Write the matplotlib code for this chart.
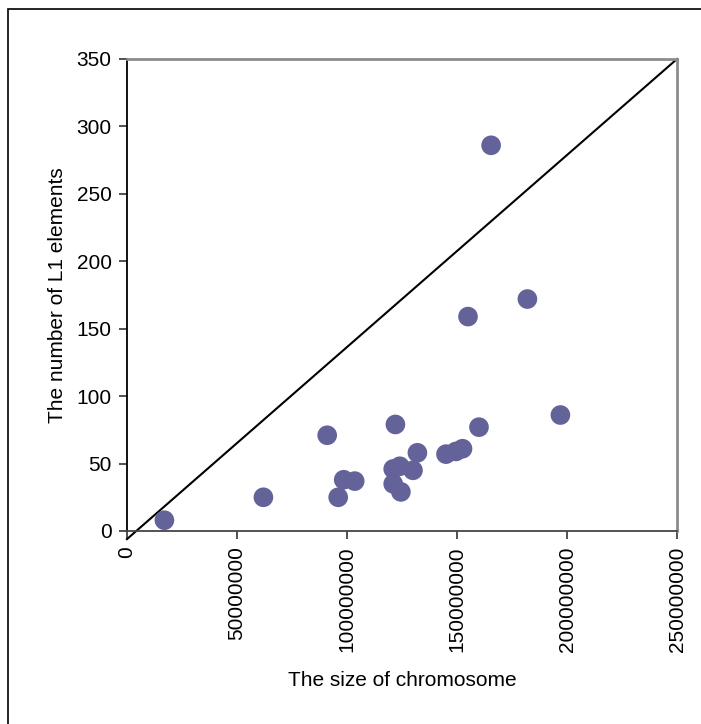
import matplotlib
matplotlib.use("Agg")
import matplotlib.pyplot as plt
from matplotlib.patches import Rectangle

plt.rcParams['font.family'] = ['Liberation Sans', 'DejaVu Sans']

chrom_size = [17e6, 62e6, 91e6, 96e6, 98.5e6, 103.5e6, 122e6, 121e6, 121e6, 124e6,
              124.5e6, 130e6, 132e6, 145e6, 149.5e6, 152.5e6, 160e6, 155e6, 165.5e6,
              182e6, 197e6]
l1_count = [8, 25, 71, 25, 38, 37, 79, 46, 35, 48, 29, 45, 58, 57, 59, 61, 77, 159, 286, 172, 86]

line_x = [0, 250e6]
line_y = [-6, 350]

x_ticks = [0, 50000000, 100000000, 150000000, 200000000, 250000000]
y_ticks = [0, 50, 100, 150, 200, 250, 300, 350]

W, H = 701, 724
fig = plt.figure(figsize=(W / 100, H / 100), dpi=100)
fig.patch.set_facecolor('white')

# outer chart-area border (left and top visible)
fig.add_artist(Rectangle((7.5 / W, -0.1), 1.2, 1 - 9 / H + 0.1, transform=fig.transFigure,
                         fill=False, edgecolor='black', linewidth=1.2))

ax = fig.add_axes([127 / W, 1 - 531 / H, 550 / W, 472 / H])
ax.set_xlim(0, 250e6)
ax.set_ylim(0, 350)

ax.plot(line_x, line_y, color='black', linewidth=1.5, clip_on=False, zorder=2)
ax.scatter(chrom_size, l1_count, s=200, color='#636399', edgecolors='none', zorder=3)

ax.set_xticks(x_ticks)
ax.set_xticklabels([str(v) for v in x_ticks], rotation=90, fontsize=15)
ax.set_yticks(y_ticks)
ax.set_yticklabels([str(v) for v in y_ticks], fontsize=15)
ax.tick_params(axis='both', direction='out', length=6, width=1.2, color='#333333', pad=5)

for side in ['top', 'right']:
    ax.spines[side].set_color('#8c8c8c')
    ax.spines[side].set_linewidth(2)
ax.spines['left'].set_color('black')
ax.spines['left'].set_linewidth(1.3)
ax.spines['bottom'].set_color('#444444')
ax.spines['bottom'].set_linewidth(1.3)

ax.set_xlabel('The size of chromosome', fontsize=15)
ax.set_ylabel('The number of L1 elements', fontsize=15)
ax.xaxis.set_label_coords(0.5, -(680 - 531) / 472, transform=ax.transAxes)
ax.xaxis.label.set_va('center')
ax.yaxis.set_label_coords(-(127 - 57) / 550, 0.5, transform=ax.transAxes)
ax.yaxis.label.set_va('center')

fig.savefig('out.png', dpi=100)
